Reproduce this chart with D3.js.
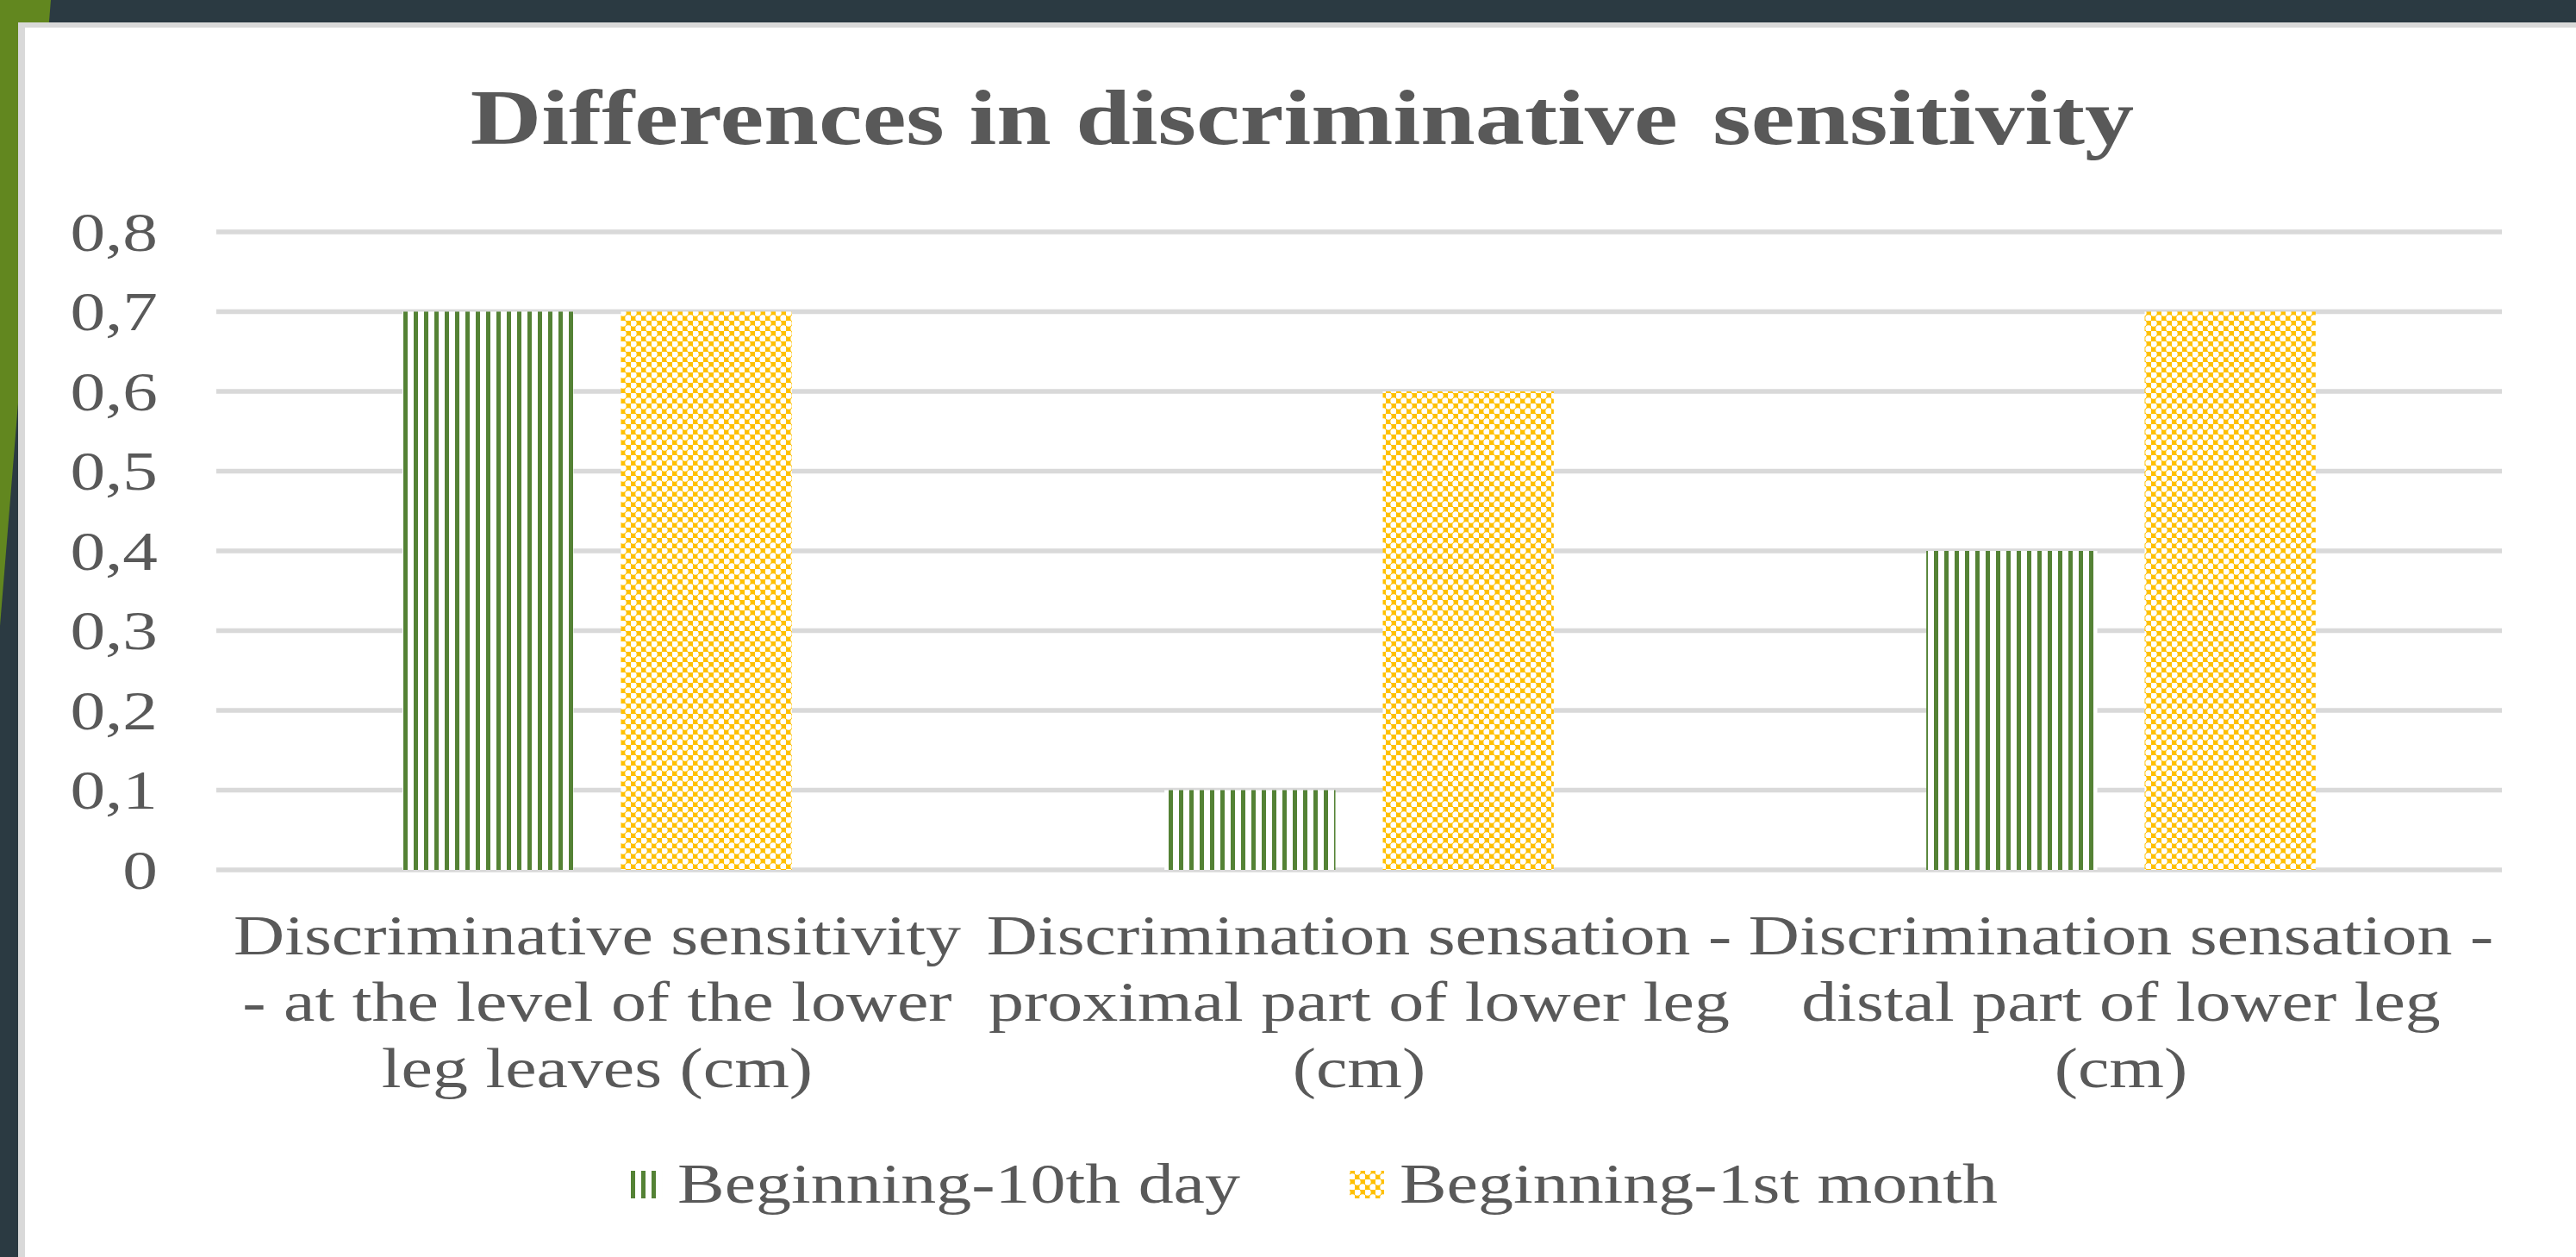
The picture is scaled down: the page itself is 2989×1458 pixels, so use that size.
<!DOCTYPE html>
<html>
<head>
<meta charset="utf-8">
<script src="https://cdn.jsdelivr.net/npm/d3@7"></script>
<style>
  body { margin: 0; background: #2b3a42; }
  svg { display: block; }
  text { font-family: "Liberation Serif", "Times New Roman", serif; fill: #595959; }
</style>
</head>
<body>
<svg id="chart"></svg>
<script>
const W = 2989, H = 1458;

// Data
const categories = [
  ["Discriminative sensitivity", "- at the level of the lower", "leg leaves (cm)"],
  ["Discrimination sensation -", "proximal part of lower leg", "(cm)"],
  ["Discrimination sensation -", "distal part of lower leg", "(cm)"]
];
const seriesNames = ["Beginning-10th day", "Beginning-1st month"];
const tenthDay = [0.7, 0.1, 0.4];
const firstMonth = [0.7, 0.6, 0.7];
const yTicks = [0, 0.1, 0.2, 0.3, 0.4, 0.5, 0.6, 0.7, 0.8];
const titleWords = ["Differences in discriminative", "sensitivity"];

const series = [tenthDay, firstMonth];
const fills = ["url(#stripes)", "url(#lattice)"];
const stretch = 1.27; // text in the picture is wider than normal

const svg = d3.select("#chart").attr("width", W).attr("height", H);

// Patterns
const defs = svg.append("defs");
const stripes = defs.append("pattern")
  .attr("id", "stripes")
  .attr("patternUnits", "userSpaceOnUse")
  .attr("width", 12).attr("height", 12);
stripes.append("rect").attr("width", 12).attr("height", 12).attr("fill", "#fff");
stripes.append("rect").attr("width", 5).attr("height", 12).attr("fill", "#548235");

const lattice = defs.append("pattern")
  .attr("id", "lattice")
  .attr("patternUnits", "userSpaceOnUse")
  .attr("width", 12).attr("height", 12);
lattice.append("rect").attr("width", 12).attr("height", 12).attr("fill", "#ffc000");
lattice.append("circle").attr("cx", 3).attr("cy", 3).attr("r", 3.7).attr("fill", "#fff");
lattice.append("circle").attr("cx", 9).attr("cy", 9).attr("r", 3.7).attr("fill", "#fff");

// Slide background
svg.append("rect").attr("width", W).attr("height", H).attr("fill", "#2b3a42");
svg.append("path").attr("d", "M0,0L59,0L0,726Z").attr("fill", "#62871f");
svg.append("rect").attr("x", 21).attr("y", 26).attr("width", W).attr("height", H).attr("fill", "#d9d9d9");
svg.append("rect").attr("x", 29).attr("y", 32).attr("width", W).attr("height", H).attr("fill", "#fff");

// Scales
const x = d3.scaleBand().domain(d3.range(categories.length)).range([251, 2903]);
const groupW = x.bandwidth() * 0.511;
const xs = d3.scaleBand().domain([0, 1]).range([-groupW / 2, groupW / 2]).paddingInner(0.217);
const y = d3.scaleLinear().domain([0, 0.8]).range([1009, 269]);

// Gridlines
svg.append("g").selectAll("line")
  .data(yTicks)
  .join("line")
  .attr("x1", 251).attr("x2", 2903)
  .attr("y1", d => y(d)).attr("y2", d => y(d))
  .attr("stroke", "#d9d9d9")
  .attr("stroke-width", 5.5);

// Y tick labels
svg.append("g").selectAll("text")
  .data(yTicks)
  .join("text")
  .attr("transform", d => `translate(183,${y(d)}) scale(${stretch},1)`)
  .attr("dy", "0.34em")
  .attr("text-anchor", "end")
  .attr("font-size", 64)
  .text(d => d === 0 ? "0" : d3.format(".1f")(d).replace(".", ","));

// Bars
series.forEach((vals, si) => {
  svg.append("g").selectAll("rect")
    .data(vals)
    .join("rect")
    .attr("x", (d, i) => x(i) + x.bandwidth() / 2 + xs(si))
    .attr("width", xs.bandwidth())
    .attr("y", d => y(d))
    .attr("height", d => y(0) - y(d))
    .attr("fill", fills[si]);
});

// Category labels
const catG = svg.append("g").selectAll("g")
  .data(categories)
  .join("g");
catG.selectAll("text")
  .data((lines, i) => lines.map((l, j) => ({ l, j, i })))
  .join("text")
  .attr("transform", d => `translate(${x(d.i) + x.bandwidth() / 2},${1107 + d.j * 77}) scale(${stretch},1)`)
  .attr("text-anchor", "middle")
  .attr("font-size", 64.5)
  .text(d => d.l);

// Title (slightly wider gap before the last word, as in the picture)
const titleText = svg.append("text")
  .attr("transform", `translate(1511,167) scale(${stretch},1)`)
  .attr("text-anchor", "middle")
  .attr("font-size", 90)
  .attr("font-weight", "bold");
titleText.append("tspan").text(titleWords[0]);
titleText.append("tspan").attr("dx", 32).text(titleWords[1]);

// Legend
const legend = svg.append("g");
const items = legend.selectAll("g")
  .data(seriesNames)
  .join("g");
items.append("rect")
  .attr("y", 1358).attr("width", 40).attr("height", 32)
  .attr("fill", (d, i) => fills[i]);
items.append("text")
  .attr("font-size", 64.5)
  .attr("text-anchor", "start")
  .text(d => d);

// lay out legend items centered
const widths = [];
items.each(function() {
  widths.push(this.querySelector("text").getComputedTextLength() * stretch);
});
const swatchW = 40, swatchGap = 18, itemGap = 127;
const total = d3.sum(widths) + widths.length * (swatchW + swatchGap) + (widths.length - 1) * itemGap;
let cx = 1523 - total / 2;
items.each(function(d, i) {
  const g = d3.select(this);
  g.select("rect").attr("x", cx);
  g.select("text").attr("transform", `translate(${cx + swatchW + swatchGap},1395) scale(${stretch},1)`);
  cx += swatchW + swatchGap + widths[i] + itemGap;
});
</script>
</body>
</html>
